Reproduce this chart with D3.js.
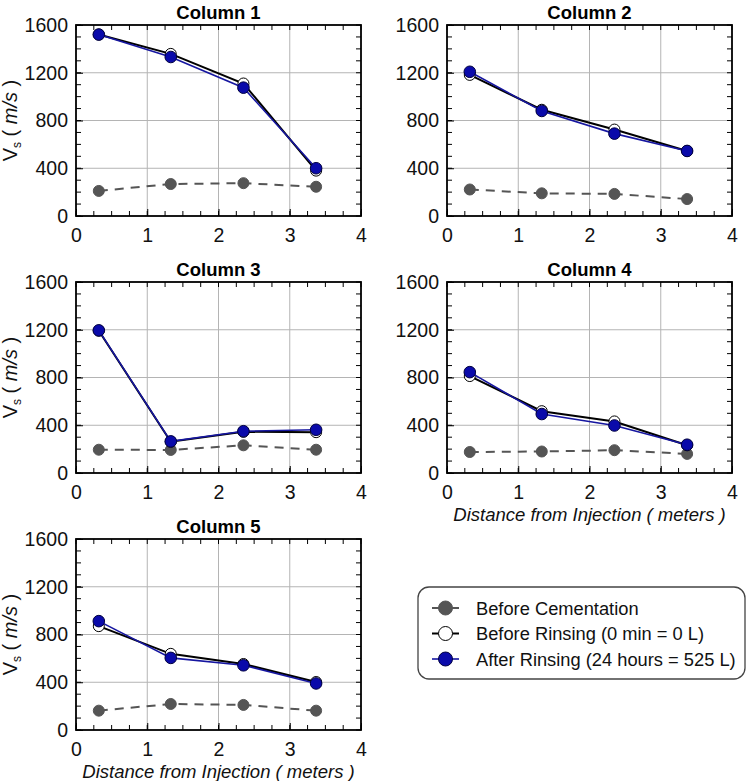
<!DOCTYPE html>
<html>
<head>
<meta charset="utf-8">
<script src="https://cdn.jsdelivr.net/npm/d3@7/dist/d3.min.js"></script>
<style>
  html, body { margin: 0; padding: 0; background: #fff; }
  svg { display: block; font-family: "Liberation Sans", Arial, Helvetica, sans-serif; }
</style>
</head>
<body>
<svg id="chart" width="748" height="781"></svg>
<script>
// ---------------- DATA ----------------
const panelTitles = ["Column 1", "Column 2", "Column 3", "Column 4", "Column 5"];
const distances = [0.32, 1.33, 2.35, 3.37];
const beforeCementation = [
  [210, 268, 275, 245],
  [222, 190, 185, 142],
  [195, 193, 232, 195],
  [176, 180, 191, 160],
  [162, 218, 210, 162]
];
const beforeRinsing = [
  [1520, 1358, 1110, 380],
  [1182, 890, 724, 545],
  [1192, 262, 345, 342],
  [812, 518, 432, 232],
  [870, 638, 553, 402]
];
const afterRinsing = [
  [1520, 1332, 1075, 400],
  [1208, 880, 690, 545],
  [1195, 265, 350, 362],
  [845, 494, 398, 237],
  [912, 604, 542, 390]
];
const xTickValues = [0, 1, 2, 3, 4];
const yTickValues = [0, 400, 800, 1200, 1600];
const seriesNames = ["Before Cementation", "Before Rinsing (0 min = 0 L)", "After Rinsing (24 hours = 525 L)"];

// ---------------- LAYOUT ----------------
const panelBoxes = [
  { left: 76, top: 25, showY: true, showX: false },
  { left: 447, top: 25, showY: false, showX: false },
  { left: 76, top: 282, showY: true, showX: false },
  { left: 447, top: 282, showY: false, showX: true },
  { left: 76, top: 539, showY: true, showX: true }
];
const PW = 285, PH = 191;
const FONT_TICK = 19.5;

const svg = d3.select("#chart");

const styles = {
  gray: { stroke: "#555555", fill: "#555555", dash: "9,7", width: 2, r: 5.5, mStroke: "#555555" },
  open: { stroke: "#000000", fill: "#ffffff", dash: null, width: 2, r: 5.5, mStroke: "#000000" },
  blue: { stroke: "#1616a0", fill: "#0a0aaa", dash: null, width: 1.6, r: 5.8, mStroke: "#000040" }
};

panelBoxes.forEach((box, i) => {
  const g = svg.append("g").attr("transform", `translate(${box.left},${box.top})`);
  const x = d3.scaleLinear().domain([0, 4]).range([0, PW]);
  const y = d3.scaleLinear().domain([0, 1600]).range([PH, 0]);

  // grid
  g.append("g").selectAll("line.gx").data(xTickValues.slice(1, -1)).join("line")
    .attr("x1", d => x(d)).attr("x2", d => x(d)).attr("y1", 0).attr("y2", PH)
    .attr("stroke", "#b4b4b4").attr("stroke-width", 1);
  g.append("g").selectAll("line.gy").data(yTickValues.slice(1, -1)).join("line")
    .attr("y1", d => y(d)).attr("y2", d => y(d)).attr("x1", 0).attr("x2", PW)
    .attr("stroke", "#b4b4b4").attr("stroke-width", 1);

  const xMinor = d3.range(0, 4.001, 0.25);
  const yMinor = d3.range(0, 1600.1, 100);

  // minor ticks (inward, all four sides)
  const minorLen = 5;
  const tickG = g.append("g").attr("stroke", "#000").attr("stroke-width", 1);
  xMinor.forEach(v => {
    tickG.append("line").attr("x1", x(v)).attr("x2", x(v)).attr("y1", PH).attr("y2", PH - minorLen);
    tickG.append("line").attr("x1", x(v)).attr("x2", x(v)).attr("y1", 0).attr("y2", minorLen);
  });
  yMinor.forEach(v => {
    tickG.append("line").attr("y1", y(v)).attr("y2", y(v)).attr("x1", 0).attr("x2", minorLen);
    tickG.append("line").attr("y1", y(v)).attr("y2", y(v)).attr("x1", PW).attr("x2", PW - minorLen);
  });

  // axes with labels
  const xAxis = d3.axisBottom(x).tickValues(xTickValues).tickFormat(d3.format("d"))
    .tickSizeInner(-7).tickSizeOuter(0).tickPadding(12);
  const gx = g.append("g").attr("transform", `translate(0,${PH})`).call(xAxis);
  gx.select(".domain").remove();
  gx.selectAll("text").attr("font-size", FONT_TICK).attr("fill", "#111").attr("font-family", "Liberation Sans, Arial, sans-serif");

  const yAxis = d3.axisLeft(y).tickValues(yTickValues).tickFormat(d3.format("d"))
    .tickSizeInner(-7).tickSizeOuter(0).tickPadding(8);
  const gy = g.append("g").call(yAxis);
  gy.select(".domain").remove();
  gy.selectAll("text").attr("font-size", FONT_TICK).attr("fill", "#111").attr("font-family", "Liberation Sans, Arial, sans-serif");

  // frame
  g.append("rect").attr("x", 0).attr("y", 0).attr("width", PW).attr("height", PH)
    .attr("fill", "none").attr("stroke", "#000").attr("stroke-width", 1.8);

  // title
  g.append("text").attr("x", PW / 2).attr("y", -6).attr("text-anchor", "middle")
    .attr("font-size", 18.5).attr("font-weight", "bold").attr("fill", "#000").text(panelTitles[i]);

  // y label
  if (box.showY) {
    const t = g.append("text").attr("transform", `translate(${-59},${PH / 2}) rotate(-90)`)
      .attr("text-anchor", "middle").attr("font-size", 20).attr("fill", "#111");
    t.append("tspan").text("V");
    t.append("tspan").attr("font-size", 12).attr("dy", 4).text("s");
    t.append("tspan").attr("dy", -4).text(" ( ");
    t.append("tspan").attr("font-style", "italic").text("m/s");
    t.append("tspan").text(" )");
  }
  if (box.showX) {
    g.append("text").attr("x", PW / 2).attr("y", PH + 48).attr("text-anchor", "middle")
      .attr("font-size", 18.5).attr("font-style", "italic").attr("fill", "#111")
      .text("Distance from Injection ( meters )");
  }

  const line = d3.line().x((d, k) => x(distances[k])).y(d => y(d));
  const series = [
    { data: beforeCementation[i], s: styles.gray },
    { data: beforeRinsing[i], s: styles.open },
    { data: afterRinsing[i], s: styles.blue }
  ];
  series.forEach(({ data, s }) => {
    g.append("path").datum(data).attr("d", line).attr("fill", "none")
      .attr("stroke", s.stroke).attr("stroke-width", s.width)
      .attr("stroke-dasharray", s.dash);
    g.append("g").selectAll("circle").data(data).join("circle")
      .attr("cx", (d, k) => x(distances[k])).attr("cy", d => y(d)).attr("r", s.r)
      .attr("fill", s.fill).attr("stroke", s.mStroke).attr("stroke-width", 1);
  });
});

// ---------------- LEGEND ----------------
const legend = svg.append("g").attr("transform", "translate(418,587)");
legend.append("rect").attr("x", 0).attr("y", 0).attr("width", 327).attr("height", 92)
  .attr("rx", 11).attr("ry", 11).attr("fill", "#fff").attr("stroke", "#444").attr("stroke-width", 1.3);
const legendStyles = [styles.gray, styles.open, styles.blue];
seriesNames.forEach((name, k) => {
  const cy = 21 + k * 25.5;
  const s = legendStyles[k];
  legend.append("line").attr("x1", 14).attr("x2", 41).attr("y1", cy).attr("y2", cy)
    .attr("stroke", s.stroke).attr("stroke-width", s.width);
  legend.append("circle").attr("cx", 27.5).attr("cy", cy).attr("r", 7)
    .attr("fill", s.fill).attr("stroke", s.mStroke).attr("stroke-width", 1);
  legend.append("text").attr("x", 58).attr("y", cy + 6.5).attr("font-size", 18.3).attr("fill", "#111").text(name);
});
</script>
</body>
</html>
